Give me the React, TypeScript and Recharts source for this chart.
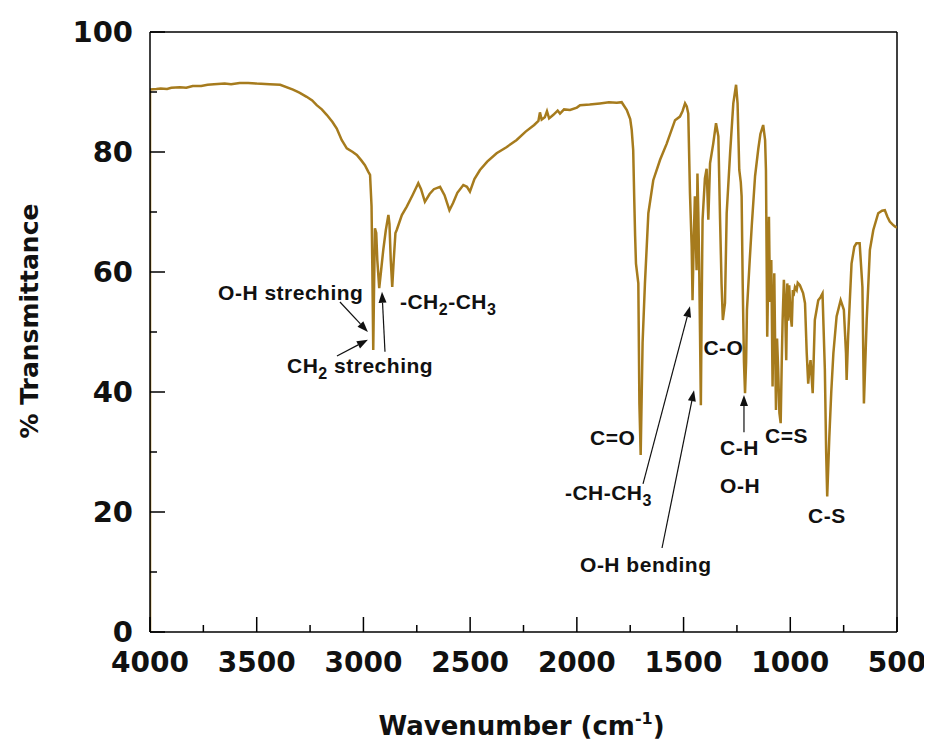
import { LineChart, Line, XAxis, YAxis, ReferenceLine, ReferenceDot } from 'recharts';

// FTIR spectrum (wavenumber in cm-1, % transmittance)
const wavenumbers = [
  4000, 4000, 3970, 3950, 3920, 3900, 3860, 3830, 3800, 3760, 3730, 3700, 3650, 3620, 3580, 3540, 3500,
  3440, 3390, 3330, 3300, 3266, 3240, 3219, 3195, 3172, 3145, 3125, 3102, 3078, 3050, 3031, 3010,
  2993, 2977, 2969, 2962, 2958, 2954, 2950, 2946, 2940, 2935, 2926, 2918, 2907, 2895, 2883, 2878,
  2872, 2865, 2858, 2850, 2844, 2820, 2797, 2770, 2743, 2730, 2712, 2690, 2670, 2641, 2620, 2597,
  2580, 2560, 2532, 2515, 2501, 2480, 2454, 2420, 2376, 2330, 2282, 2240, 2200, 2180, 2173, 2165,
  2150, 2140, 2130, 2110, 2090, 2079, 2060, 2032, 2000, 1985, 1940, 1892, 1850, 1813, 1790, 1766,
  1750, 1743, 1736, 1731, 1727, 1723, 1712, 1707, 1701, 1692, 1681, 1665, 1642, 1610, 1579, 1540,
  1517, 1505, 1493, 1485, 1478, 1470, 1462, 1458, 1452, 1447, 1443, 1439, 1435, 1431, 1427, 1423,
  1419, 1415, 1411, 1400, 1392, 1384, 1376, 1361, 1348, 1337, 1329, 1322, 1316, 1306, 1298, 1282,
  1267, 1254, 1247, 1239, 1232, 1228, 1223, 1217, 1212, 1207, 1203, 1190, 1180, 1165, 1150, 1140,
  1127, 1118, 1114, 1108, 1103, 1100, 1095, 1089, 1083, 1079, 1075, 1071, 1067, 1062, 1057, 1051,
  1045, 1040, 1036, 1030, 1025, 1019, 1014, 1010, 1005, 999, 993, 988, 985, 978, 970, 965, 955,
  940, 931, 923, 916, 910, 905, 895, 885, 869, 858, 849, 838, 832, 827, 817, 808, 798, 783,
  764, 749, 739, 736, 729, 713, 700, 690, 675, 662, 655, 642, 627, 611, 588, 570, 557, 545,
  534, 520, 510, 500,
];
const transmittance = [
  0, 90.4, 90.5, 90.6, 90.5, 90.7, 90.8, 90.7, 91.0, 91.0, 91.2, 91.3, 91.4, 91.3, 91.5, 91.5, 91.4,
  91.3, 91.2, 90.4, 89.9, 89.2, 88.6, 87.8, 87.1, 86.2, 85.0, 83.9, 82.0, 80.6, 80.0, 79.5, 78.6,
  77.8, 76.7, 76.2, 71, 60, 47.0, 58, 67.3, 66.5, 62, 57.3, 60, 63.7, 67, 69.5, 68,
  62, 57.5, 62, 66.5, 67, 69.5, 70.9, 72.8, 74.8, 73.8, 71.7, 73, 73.8, 74.2, 72.8, 70.3,
  71.5, 73.2, 74.5, 74.2, 73.4, 75.5, 77.0, 78.4, 79.8, 80.8, 82.0, 83.4, 84.5, 85.2, 86.6, 85.4,
  85.8, 86.8, 85.6, 86.2, 86.9, 86.4, 87.1, 87.0, 87.4, 87.8, 87.9, 88.1, 88.3, 88.2, 88.3, 87.0,
  85.5, 83.7, 80.3, 72, 66, 61.4, 58.1, 38.1, 29.5, 48.2, 58.1, 69.8, 75.3, 78.7, 81.4, 85.3,
  85.9, 86.8, 88.1, 87.6, 86.4, 73.1, 64.2, 55.3, 66, 72.6, 66, 60.3, 76.4, 70, 61.4, 50,
  37.8, 55, 68.7, 75.6, 77.2, 68.7, 78.1, 81.4, 84.8, 82.6, 68.7, 58, 52.0, 54.8, 69.8, 79.8,
  88.1, 91.2, 88.1, 77.0, 75, 72.6, 58.1, 45, 39.8, 45, 53.7, 62, 68, 76, 80.5, 83,
  84.5, 82, 77.0, 49.2, 60.3, 69.2, 55, 62, 40.9, 52, 59.8, 48, 37.0, 48.9, 44, 36.5,
  34.8, 45, 51.9, 58.7, 55.3, 45.3, 58.1, 51.9, 57.8, 53, 50.9, 57, 56, 57.5, 57, 58.2, 57.8,
  56.5, 54.8, 46.5, 41.4, 44, 45.3, 39.8, 52.0, 55.3, 55.8, 56.4, 43.7, 30, 22.6, 32.6, 40, 46.5, 52.6,
  55.3, 53.7, 46.5, 42.0, 49.2, 61.4, 64.2, 64.8, 64.8, 57.5, 38.1, 52.0, 63.7, 67.0, 69.8, 70.2, 70.3, 69.2,
  68.4, 67.9, 67.6, 67.4,
];

const xTicks = [4000, 3750, 3500, 3250, 3000, 2750, 2500, 2250, 2000, 1750, 1500, 1250, 1000, 750, 500];
const yTicks = [0, 10, 20, 30, 40, 50, 60, 70, 80, 90, 100];

// band labels, "_2" means subscript 2
const bandLabels = [
  { w: 3681, t: 55.3, text: 'O-H streching' },
  { w: 3358, t: 43.2, text: 'CH_2 streching' },
  { w: 2829, t: 53.8, text: '-CH_2-CH_3' },
  { w: 1938, t: 31.2, text: 'C=O' },
  { w: 2056, t: 22.0, text: '-CH-CH_3' },
  { w: 1985, t: 10.0, text: 'O-H bending' },
  { w: 1407, t: 46.2, text: 'C-O' },
  { w: 1329, t: 29.5, text: 'C-H' },
  { w: 1329, t: 23.2, text: 'O-H' },
  { w: 1118, t: 31.5, text: 'C=S' },
  { w: 917, t: 18.2, text: 'C-S' },
];

const arrows = [
  { from: [3110, 55], to: [2979, 50] },
  { from: [3124, 46], to: [2979, 48.7] },
  { from: [2899, 46.7], to: [2913, 56.7] },
  { from: [1690, 24.7], to: [1470, 54.3] },
  { from: [1601, 14], to: [1451, 40.3] },
  { from: [1217, 33.3], to: [1217, 39.5] },
];

const spectrum = wavenumbers.map((w, i) => ({ w, t: transmittance[i] }));

const LINE_COLOR = '#A67B1D';
const AXIS_FONT = "'DejaVu Sans', sans-serif";
const NOTE_FONT = "'Liberation Sans', Arial, sans-serif";

const XTick = ({ x, y, payload }: any) => {
  const major = payload.value % 500 === 0;
  return (
    <g>
      <line x1={x} x2={x} y1={y} y2={y - (major ? 15 : 7)} stroke="#000" strokeWidth={1.5} />
      {major && (
        <text x={x} y={y + 40} textAnchor="middle" fontFamily={AXIS_FONT} fontWeight="bold" fontSize={28} fill="#111">
          {payload.value}
        </text>
      )}
    </g>
  );
};

const YTick = ({ x, y, payload }: any) => {
  const major = payload.value % 20 === 0;
  return (
    <g>
      <line x1={x} x2={x + (major ? 15 : 7)} y1={y} y2={y} stroke="#000" strokeWidth={1.5} />
      {major && (
        <text x={x - 17} y={y + 10} textAnchor="end" fontFamily={AXIS_FONT} fontWeight="bold" fontSize={29} fill="#111">
          {payload.value}
        </text>
      )}
    </g>
  );
};

const noteShape = (text: string) => (props: any) => {
  const parts = text.split(/(_\d)/).filter(Boolean);
  let wasSub = false;
  return (
    <text x={props.cx} y={props.cy} fontFamily={NOTE_FONT} fontWeight="bold" fontSize={21} letterSpacing={0.5} fill="#111">
      {parts.map((p, i) => {
        const sub = p.startsWith('_');
        const dy = sub ? 6 : wasSub ? -6 : 0;
        wasSub = sub;
        return (
          <tspan key={i} dy={dy} fontSize={sub ? 16 : 21}>
            {sub ? p.slice(1) : p}
          </tspan>
        );
      })}
    </text>
  );
};

const ArrowShape = (props: any) => {
  const { x1, y1, x2, y2 } = props;
  const a = Math.atan2(y2 - y1, x2 - x1);
  const L = 11;
  const W = 4;
  const bx = x2 - L * Math.cos(a);
  const by = y2 - L * Math.sin(a);
  const pts = [
    [x2, y2],
    [bx + W * Math.sin(a), by - W * Math.cos(a)],
    [bx - W * Math.sin(a), by + W * Math.cos(a)],
  ]
    .map((p) => p.join(','))
    .join(' ');
  return (
    <g>
      <line x1={x1} y1={y1} x2={bx} y2={by} stroke="#111" strokeWidth={1.2} />
      <polygon points={pts} fill="#111" />
    </g>
  );
};

export default function App() {
  return (
    <LineChart width={924} height={739} data={spectrum} margin={{ top: 24, right: 35, left: 0, bottom: 0 }}>
      <XAxis
        type="number"
        dataKey="w"
        domain={[500, 4000]}
        reversed
        ticks={xTicks}
        interval={0}
        tickSize={0}
        tickMargin={0}
        tickLine={false}
        tick={(p: any) => <XTick {...p} />}
        axisLine={{ stroke: '#000', strokeWidth: 1.5 }}
        height={115}
        allowDataOverflow
        label={{
          content: (p: any) => {
            const vb = p.viewBox;
            return (
              <text x={vb.x + vb.width / 2 - 2} y={vb.y + 103} textAnchor="middle" fontFamily={AXIS_FONT} fontWeight="bold" fontSize={26} fill="#111">
                Wavenumber (cm
                <tspan dy={-11} fontSize={16}>-1</tspan>
                <tspan dy={11}>)</tspan>
              </text>
            );
          },
        }}
      />
      <YAxis
        type="number"
        domain={[0, 100]}
        ticks={yTicks}
        interval={0}
        tickSize={0}
        tickMargin={0}
        tickLine={false}
        tick={(p: any) => <YTick {...p} />}
        axisLine={{ stroke: '#000', strokeWidth: 1.5 }}
        width={142}
        allowDataOverflow
        label={{
          content: (p: any) => {
            const vb = p.viewBox;
            const cx = 30;
            const cy = vb.y + vb.height / 2 - 11;
            return (
              <text x={cx} y={cy} transform={`rotate(-90, ${cx}, ${cy})`} textAnchor="middle" fontFamily={AXIS_FONT} fontWeight="bold" fontSize={25} fill="#111">
                % Transmittance
              </text>
            );
          },
        }}
      />
      <ReferenceLine y={100} stroke="#000" strokeWidth={1.5} />
      <ReferenceLine x={500} stroke="#000" strokeWidth={1.5} />
      <Line
        type="linear"
        dataKey="t"
        stroke={LINE_COLOR}
        strokeWidth={2.5}
        dot={false}
        isAnimationActive={false}
      />
      {arrows.map((a, i) => (
        <ReferenceLine
          key={`arrow-${i}`}
          segment={[
            { x: a.from[0], y: a.from[1] },
            { x: a.to[0], y: a.to[1] },
          ]}
          shape={ArrowShape}
        />
      ))}
      {bandLabels.map((b, i) => (
        <ReferenceDot key={`note-${i}`} x={b.w} y={b.t} r={0} shape={noteShape(b.text)} />
      ))}
    </LineChart>
  );
}
